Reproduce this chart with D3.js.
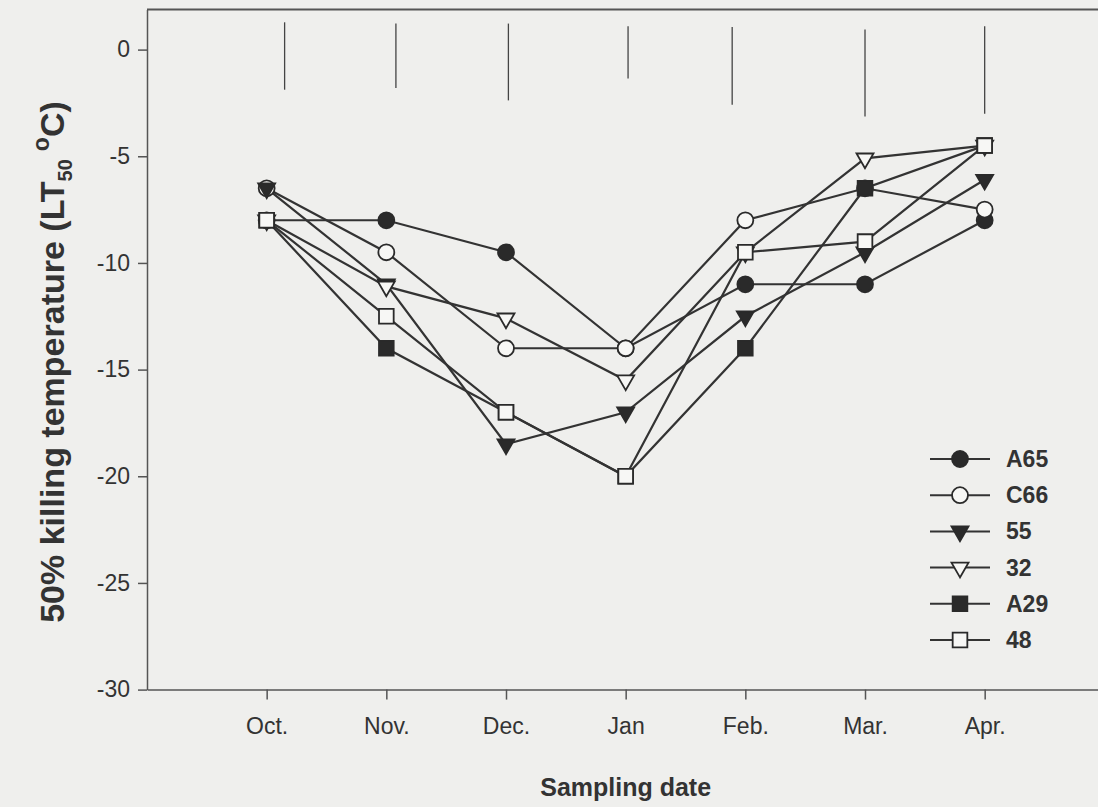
<!DOCTYPE html>
<html>
<head>
<meta charset="utf-8">
<script src="https://cdn.jsdelivr.net/npm/d3@7"></script>
<style>
  html, body { margin: 0; padding: 0; background: #efefed; }
  svg { display: block; }
</style>
</head>
<body>
<svg id="chart" width="1098" height="807"></svg>
<script>
// ---- data ----
const months = ["Oct.", "Nov.", "Dec.", "Jan", "Feb.", "Mar.", "Apr."];
const seriesNames = ["A65", "C66", "55", "32", "A29", "48"];
const valuesA65 = [-8, -8, -9.5, -14, -11, -11, -8];
const valuesC66 = [-6.5, -9.5, -14, -14, -8, -6.5, -7.5];
const values55  = [-6.5, -11, -18.5, -17, -12.5, -9.5, -6.1];
const values32  = [-8, -11.1, -12.6, -15.5, -9.5, -5.1, -4.5];
const valuesA29 = [-8, -14, -17, -20, -14, -6.5, -4.5];
const values48  = [-8, -12.5, -17, -20, -9.5, -9, -4.5];
const yTicks = [0, -5, -10, -15, -20, -25, -30];
// LSD bars (position in month units, top and bottom values)
const lsdPos    = [0.15, 1.08, 2.02, 3.02, 3.89, 5.0, 6.0];
const lsdTop    = [1.28, 1.22, 1.22, 1.09, 1.06, 0.94, 1.09];
const lsdBottom = [-1.88, -1.80, -2.38, -1.36, -2.58, -3.13, -3.01];

const seriesValues = [valuesA65, valuesC66, values55, values32, valuesA29, values48];
const seriesStyle = [
  {shape: "circle", fill: true},
  {shape: "circle", fill: false},
  {shape: "tri", fill: true},
  {shape: "tri", fill: false},
  {shape: "square", fill: true},
  {shape: "square", fill: false}
];

const svg = d3.select("#chart");
const ink = "#333";
const font = "Liberation Sans, Arial, sans-serif";
const plotLeft = 147, plotRight = 1098, plotTop = 9.5, plotBottom = 689.6;

const x = d3.scaleLinear().domain([-1, 6.947]).range([plotLeft, plotRight]);
const y = d3.scaleLinear().domain([-30, 1.88]).range([plotBottom, plotTop]);

// frame: top line
svg.append("line").attr("x1", plotLeft).attr("x2", plotRight)
  .attr("y1", y(1.88)).attr("y2", y(1.88))
  .attr("stroke", "#555").attr("stroke-width", 2);

// y axis
const yAxis = d3.axisLeft(y).tickValues(yTicks).tickSize(9).tickSizeOuter(0).tickPadding(8)
  .tickFormat(d => String(d));
const gy = svg.append("g").attr("transform", `translate(${plotLeft},0)`).call(yAxis);
gy.select(".domain").attr("stroke", "#555").attr("stroke-width", 1.5);
gy.selectAll(".tick line").attr("stroke", "#555").attr("stroke-width", 1.5);
gy.selectAll(".tick text").attr("font-family", font)
  .attr("font-size", 23).attr("fill", ink);

// x axis
const xAxis = d3.axisBottom(x).tickValues(d3.range(months.length)).tickSize(10).tickSizeOuter(0).tickPadding(18)
  .tickFormat(i => months[i]);
const gx = svg.append("g").attr("transform", `translate(0,${plotBottom})`).call(xAxis);
gx.select(".domain").attr("stroke", "#555").attr("stroke-width", 1.5);
gx.selectAll(".tick line").attr("stroke", "#555").attr("stroke-width", 1.5);
gx.selectAll(".tick text").attr("font-family", font)
  .attr("font-size", 23).attr("fill", ink);

// axis titles
svg.append("text")
  .attr("x", (x(0) + x(6)) / 2).attr("y", 796)
  .attr("text-anchor", "middle")
  .attr("font-family", font)
  .attr("font-weight", "bold").attr("font-size", 25).attr("fill", ink)
  .text("Sampling date");

const yl = svg.append("text")
  .attr("transform", `translate(64,362) rotate(-90)`)
  .attr("text-anchor", "middle")
  .attr("font-family", font)
  .attr("font-weight", "bold").attr("font-size", 34).attr("fill", ink);
yl.append("tspan").text("50% killing temperature (LT");
yl.append("tspan").attr("font-size", 20).attr("dy", 8).text("50");
yl.append("tspan").attr("font-size", 23).attr("dy", -23).attr("dx", 8).text("o");
yl.append("tspan").attr("dy", 15).text("C)");

// LSD bars
svg.append("g").selectAll("line").data(lsdPos).join("line")
  .attr("x1", d => x(d)).attr("x2", d => x(d))
  .attr("y1", (d, i) => y(lsdTop[i])).attr("y2", (d, i) => y(lsdBottom[i]))
  .attr("stroke", "#444").attr("stroke-width", 1.3);

// marker generator
function markerPath(shape) {
  if (shape === "circle") return d3.symbol(d3.symbolCircle, 200)();
  if (shape === "square") return d3.symbol(d3.symbolSquare, 215)();
  return d3.symbol(d3.symbolTriangle, 125)();
}
function drawMarker(g, style, cx, cy) {
  const p = g.append("path")
    .attr("d", markerPath(style.shape))
    .attr("fill", style.fill ? "#2a2a2a" : "#f7f7f5")
    .attr("stroke", "#2a2a2a").attr("stroke-width", 1.8);
  let t = `translate(${cx},${cy})`;
  if (style.shape === "tri") t += " rotate(180)";
  p.attr("transform", t);
}

const line = d3.line().x((d, i) => x(i)).y(d => y(d));

// lines first
const gLines = svg.append("g");
seriesValues.forEach(vals => {
  gLines.append("path").datum(vals).attr("d", line)
    .attr("fill", "none").attr("stroke", "#333").attr("stroke-width", 2.2);
});
// markers
const gMarks = svg.append("g");
seriesValues.forEach((vals, s) => {
  vals.forEach((v, i) => drawMarker(gMarks, seriesStyle[s], x(i), y(v)));
});

// legend
const lg = svg.append("g");
const legY0 = 459, legStep = 36.2;
seriesNames.forEach((name, s) => {
  const ly = legY0 + s * legStep;
  lg.append("line").attr("x1", 930).attr("x2", 990).attr("y1", ly).attr("y2", ly)
    .attr("stroke", "#333").attr("stroke-width", 2);
  drawMarker(lg, seriesStyle[s], 960, ly);
  lg.append("text").attr("x", 1006).attr("y", ly + 8)
    .attr("font-family", font)
    .attr("font-weight", "bold").attr("font-size", 23).attr("fill", ink)
    .text(name);
});
</script>
</body>
</html>
